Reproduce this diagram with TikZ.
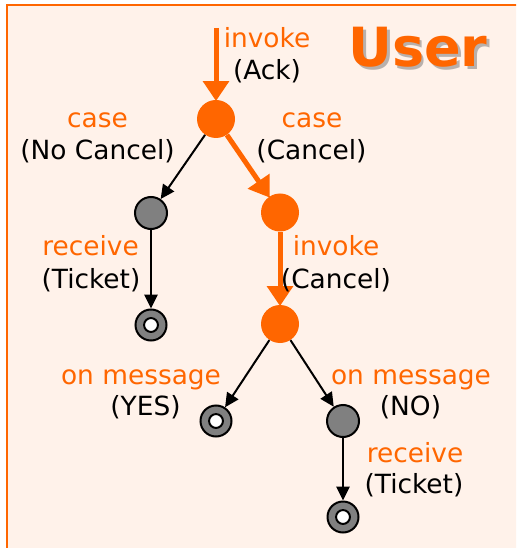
\documentclass[tikz,border=0pt]{standalone}
\usepackage{fontspec}
\setmainfont{DejaVu Sans}
\usetikzlibrary{arrows.meta}
\definecolor{org}{HTML}{FF6600}
\definecolor{bgc}{HTML}{FFF2EA}
\definecolor{gry}{HTML}{808080}
\definecolor{shd}{HTML}{B8B0AC}
\begin{document}
\begin{tikzpicture}[x=0.75pt,y=-0.75pt,
  lbl/.style={font=\fontsize{19.8}{24}\selectfont, inner sep=0pt, anchor=base},
  olbl/.style={lbl, text=org},
  onode/.style={circle, fill=org, minimum size=28.5pt, inner sep=0pt},
  gnode/.style={circle, fill=gry, draw=black, line width=1.5pt, minimum size=24pt, inner sep=0pt},
  enode/.style={gnode, minimum size=23.25pt,
    path picture={\draw[fill=white, line width=1.5pt] (path picture bounding box.center) circle (5.2pt);}},
  thin/.style={draw=black, line width=1.5pt, -{Triangle[length=10.5pt,width=10pt]}},
  thick/.style={draw=org, line width=3.75pt, -{Triangle[length=15pt,width=19pt]}, shorten >=-1pt}
]
\useasboundingbox (0,0) rectangle (516,548);
\begin{scope}
  \clip (0,0) rectangle (516,548);
  \draw[draw=org, fill=bgc, line width=1.5pt] (7,5) rectangle (540,570);
\end{scope}

% title with shadow
\node[font=\fontsize{40.5}{48}\bfseries, text=org, inner sep=0pt, anchor=base] (user) at (418,67)
  {\makebox[0pt][l]{\hspace{2pt}\raisebox{-2pt}[0pt][0pt]{\textcolor{shd}{User}}}User};

% states
\coordinate (start) at (216,28);
\node[onode] (A) at (216,119) {};
\node[gnode] (B) at (151,213) {};
\node[onode] (C) at (280,212.5) {};
\node[enode] (D) at (151,325) {};
\node[onode] (E) at (280,324) {};
\node[enode] (F) at (216,421) {};
\node[gnode] (G) at (343,421) {};
\node[enode] (H) at (343,517) {};

% transitions
\draw[thick] (start) -- (A);
\draw[thin] (A) -- (B);
\draw[thick] (A) -- (C);
\draw[thin] (B) -- (D);
\draw[thick] (C) -- (E);
\draw[thin] (E) -- (F);
\draw[thin] (E) -- (G);
\draw[thin] (G) -- (H);

% labels
\node[olbl] (l1a) at (267,48) {invoke};
\node[lbl]  (l1b) at (267,80) {(Ack)};
\node[olbl] (l2a) at (97.5,128) {case};
\node[lbl]  (l2b) at (97.5,160) {(No Cancel)};
\node[olbl] (l3a) at (312,128) {case};
\node[lbl]  (l3b) at (311.5,160) {(Cancel)};
\node[olbl] (l4a) at (90.5,256) {receive};
\node[lbl]  (l4b) at (91,288) {(Ticket)};
\node[olbl] (l5a) at (336,256) {invoke};
\node[lbl]  (l5b) at (336,288) {(Cancel)};
\node[olbl] (l6a) at (141,384) {on message};
\node[lbl]  (l6b) at (145.5,415) {(YES)};
\node[olbl] (l7a) at (411,384) {on message};
\node[lbl]  (l7b) at (410.5,415) {(NO)};
\node[olbl] (l8a) at (415,462) {receive};
\node[lbl]  (l8b) at (414,493) {(Ticket)};
\end{tikzpicture}
\end{document}
